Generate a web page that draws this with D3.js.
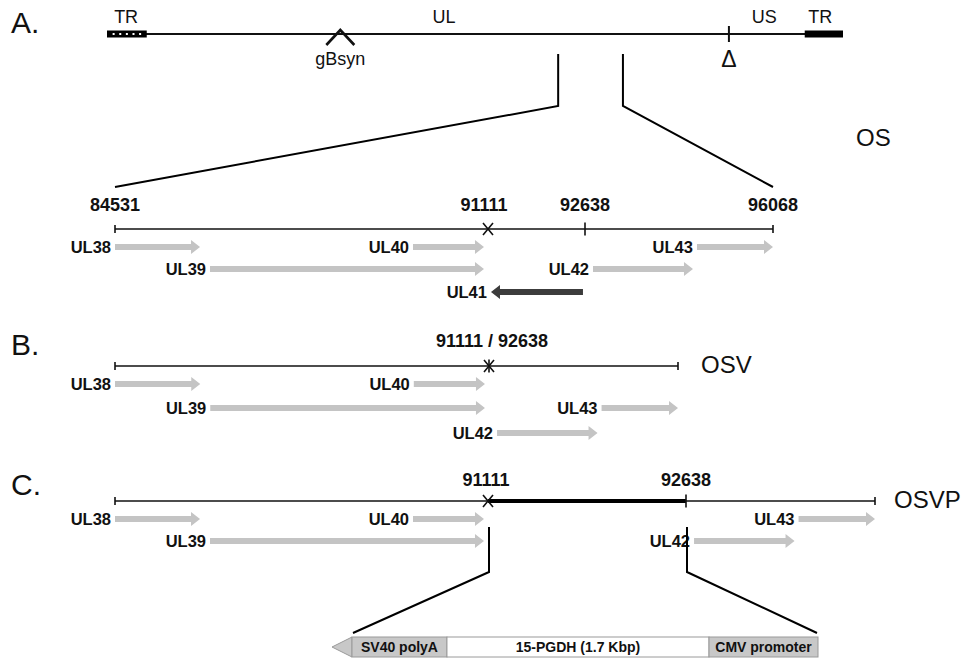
<!DOCTYPE html>
<html>
<head>
<meta charset="utf-8">
<script src="https://cdn.jsdelivr.net/npm/d3@7"></script>
<style>
  body { margin: 0; background: #fff; }
  svg { display: block; font-family: "Liberation Sans", Arial, Helvetica, sans-serif; }
</style>
</head>
<body>
<svg id="fig" width="975" height="660"></svg>
<script>
// ---------- Genome overview (schematic map units, 0–100 across the genome) ----------
const mapRepeats = [
  { name: "TR", start: 0,    end: 5.4, dotted: true },
  { name: "TR", start: 94.8, end: 100, dotted: false }
];
const mapLabels = [
  { text: "TR", pos: 2.6 },
  { text: "UL", pos: 45.8 },
  { text: "US", pos: 89.3 },
  { text: "TR", pos: 96.9 }
];
const gBsynPos = 31.7;          // gB syncytial mutation
const usDeletionPos = 84.5;     // Δ marker
const zoomWindow = [61.3, 70.1]; // expanded UL38–UL43 region

// ---------- Expanded region landmarks (bp) ----------
const regionStart = 84531;
const cutLeft = 91111;
const cutRight = 92638;
const regionEnd = 96068;

// ---------- Open reading frames (bp; start -> end gives direction) ----------
const genesOS = [
  { name: "UL38", start: 84531, end: 86031, row: 0 },
  { name: "UL39", start: 86207, end: 91040, row: 1 },
  { name: "UL40", start: 89788, end: 91040, row: 0 },
  { name: "UL41", start: 92606, end: 91158, row: 2 },
  { name: "UL42", start: 92784, end: 94608, row: 1 },
  { name: "UL43", start: 94681, end: 96068, row: 0 }
];
const genesOSV = [
  { name: "UL38", start: 84531, end: 86031, row: 0 },
  { name: "UL39", start: 86207, end: 91040, row: 1 },
  { name: "UL40", start: 89788, end: 91040, row: 0 },
  { name: "UL42", start: 92784, end: 94608, row: 2 },
  { name: "UL43", start: 94681, end: 96068, row: 1 }
];
const genesOSVP = [
  { name: "UL38", start: 84531, end: 86031, row: 0 },
  { name: "UL39", start: 86207, end: 91040, row: 1 },
  { name: "UL40", start: 89788, end: 91040, row: 0 },
  { name: "UL42", start: 92784, end: 94608, row: 1 },
  { name: "UL43", start: 94681, end: 96068, row: 0 }
];

// ---------- Inserted expression cassette (bp) ----------
const cassetteParts = [
  { name: "SV40 polyA",        length: 616,  fill: "#c8c8c8" },
  { name: "15-PGDH (1.7 Kbp)", length: 1700, fill: "#ffffff" },
  { name: "CMV promoter",      length: 707,  fill: "#c8c8c8" }
];

// =====================================================================
const svg = d3.select("#fig");
const INK = "#111";
const GENE_FILL = "#c4c4c4";
const GENE_FILL_REV = "#3c3c3c";

// Panel letters
const letters = [{ t: "A.", y: 33 }, { t: "B.", y: 355 }, { t: "C.", y: 495 }];
svg.selectAll("text.letter").data(letters).join("text")
  .attr("class", "letter")
  .attr("x", 11).attr("y", d => d.y)
  .attr("font-size", 30).attr("fill", INK)
  .text(d => d.t);

// ---------- Overview map ----------
const mapY = 34;
const xMap = d3.scaleLinear().domain([0, 100]).range([107, 843]);

svg.append("line")
  .attr("x1", xMap(0)).attr("x2", xMap(100))
  .attr("y1", mapY).attr("y2", mapY)
  .attr("stroke", INK).attr("stroke-width", 2);

const rep = svg.selectAll("g.rep").data(mapRepeats).join("g").attr("class", "rep");
rep.append("rect")
  .attr("x", d => xMap(d.start)).attr("width", d => xMap(d.end) - xMap(d.start))
  .attr("y", mapY - 3.5).attr("height", 7)
  .attr("fill", "#000");
rep.filter(d => d.dotted).each(function (d) {
  const g = d3.select(this);
  const n = 5;
  const xs = d3.scaleLinear().domain([0, n + 1]).range([xMap(d.start), xMap(d.end)]);
  g.selectAll("rect.dot").data(d3.range(1, n + 1)).join("rect")
    .attr("class", "dot")
    .attr("x", i => xs(i) - 1).attr("y", mapY - 1)
    .attr("width", 2).attr("height", 2)
    .attr("fill", "#fff");
});

svg.selectAll("text.maplab").data(mapLabels).join("text")
  .attr("class", "maplab")
  .attr("x", d => xMap(d.pos)).attr("y", 23)
  .attr("text-anchor", "middle").attr("font-size", 18).attr("fill", INK)
  .text(d => d.text);

// gBsyn caret
const gx = xMap(gBsynPos);
svg.append("path")
  .attr("d", d3.line()([[gx - 14, 45], [gx, 30], [gx + 14, 45]]))
  .attr("fill", "none").attr("stroke", INK).attr("stroke-width", 2.6);
svg.append("text")
  .attr("x", gx).attr("y", 65)
  .attr("text-anchor", "middle").attr("font-size", 18).attr("fill", INK)
  .text("gBsyn");

// US deletion marker
const dx = xMap(usDeletionPos);
svg.append("line")
  .attr("x1", dx).attr("x2", dx).attr("y1", 26).attr("y2", 42)
  .attr("stroke", INK).attr("stroke-width", 2);
svg.append("text")
  .attr("x", dx).attr("y", 67)
  .attr("text-anchor", "middle").attr("font-size", 23).attr("fill", INK)
  .text("Δ");

// ---------- Expanded tracks ----------
const panels = [
  {
    name: "OS", nameX: 856, nameY: 146,
    axisY: 229, rows: [247, 269, 292], genes: genesOS,
    x: d3.scaleLinear().domain([regionStart, cutLeft, cutRight, regionEnd]).range([115, 488, 585, 773]),
    marks: [
      { pos: regionStart, kind: "tick" },
      { pos: cutLeft, kind: "cross" },
      { pos: cutRight, kind: "tickTall" },
      { pos: regionEnd, kind: "tick" }
    ],
    labels: [
      { text: String(regionStart), pos: regionStart },
      { text: String(cutLeft), pos: cutLeft, dx: -4 },
      { text: String(cutRight), pos: cutRight },
      { text: String(regionEnd), pos: regionEnd }
    ],
    labelDy: -18
  },
  {
    name: "OSV", nameX: 701, nameY: 373,
    axisY: 366, rows: [384, 408, 433], genes: genesOSV,
    x: d3.scaleLinear().domain([regionStart, cutLeft, cutRight, regionEnd]).range([115, 489, 489, 678]),
    marks: [
      { pos: regionStart, kind: "tick" },
      { pos: cutLeft, kind: "cross" },
      { pos: cutRight, kind: "tickTall" },
      { pos: regionEnd, kind: "tick" }
    ],
    labels: [{ text: cutLeft + " / " + cutRight, pos: cutLeft, dx: 3 }],
    labelDy: -19
  },
  {
    name: "OSVP", nameX: 894, nameY: 508,
    axisY: 501, rows: [519, 541, 563], genes: genesOSVP,
    x: d3.scaleLinear().domain([regionStart, cutLeft, cutRight, regionEnd]).range([115, 488, 686, 875]),
    insert: [cutLeft, cutRight],
    marks: [
      { pos: regionStart, kind: "tick" },
      { pos: cutLeft, kind: "cross" },
      { pos: cutRight, kind: "tickTall" },
      { pos: regionEnd, kind: "tick" }
    ],
    labels: [
      { text: String(cutLeft), pos: cutLeft, dx: -2 },
      { text: String(cutRight), pos: cutRight }
    ],
    labelDy: -15
  }
];

function arrowPath(x0, x1, y) {
  const d = x1 >= x0 ? 1 : -1;
  const head = 9, shaft = 3, half = 7;
  const hb = x1 - d * head;
  return d3.line()([
    [x0, y - shaft], [hb, y - shaft], [hb, y - half], [x1, y],
    [hb, y + half], [hb, y + shaft], [x0, y + shaft]
  ]) + "Z";
}

panels.forEach(p => {
  const g = svg.append("g");
  const x = p.x;
  const y = p.axisY;

  // backbone
  g.append("line")
    .attr("x1", x(regionStart)).attr("x2", x(regionEnd))
    .attr("y1", y).attr("y2", y)
    .attr("stroke", INK).attr("stroke-width", 1.6);

  if (p.insert) {
    g.append("line")
      .attr("x1", x(p.insert[0])).attr("x2", x(p.insert[1]))
      .attr("y1", y).attr("y2", y)
      .attr("stroke", "#000").attr("stroke-width", 4);
  }

  // marks
  p.marks.forEach(m => {
    const mx = x(m.pos);
    if (m.kind === "tick" || m.kind === "tickTall") {
      const h = m.kind === "tick" ? 4 : 6.5;
      g.append("line")
        .attr("x1", mx).attr("x2", mx).attr("y1", y - h).attr("y2", y + h)
        .attr("stroke", INK).attr("stroke-width", 1.6);
    } else {
      g.append("path")
        .attr("d", `M${mx - 5},${y - 6}L${mx + 5},${y + 6}M${mx + 5},${y - 6}L${mx - 5},${y + 6}`)
        .attr("stroke", INK).attr("stroke-width", 1.6).attr("fill", "none");
    }
  });

  // coordinate labels
  g.selectAll("text.coord").data(p.labels).join("text")
    .attr("class", "coord")
    .attr("x", d => x(d.pos) + (d.dx || 0)).attr("y", y + p.labelDy)
    .attr("text-anchor", "middle").attr("font-size", 18).attr("font-weight", "bold")
    .attr("fill", INK)
    .text(d => d.text);

  // construct name
  g.append("text")
    .attr("x", p.nameX).attr("y", p.nameY)
    .attr("font-size", 24).attr("fill", INK)
    .text(p.name);

  p.g = g;
});

// connector lines (drawn beneath the gene labels)
const connectors = svg.append("g").attr("fill", "none").attr("stroke", "#000").attr("stroke-width", 2);
const pA = panels[0], pC = panels[2];
connectors.append("path").attr("d", d3.line()([
  [xMap(zoomWindow[0]), 54], [xMap(zoomWindow[0]), 106], [pA.x(regionStart), 187]
]));
connectors.append("path").attr("d", d3.line()([
  [xMap(zoomWindow[1]), 54], [xMap(zoomWindow[1]), 106], [pA.x(regionEnd), 187]
]));

// cassette
const cassetteTotal = d3.sum(cassetteParts, d => d.length);
const xCas = d3.scaleLinear().domain([0, cassetteTotal]).range([352, 818]);
const casTop = 637, casH = 20;
let acc = 0;
cassetteParts.forEach(d => { d.s = acc; acc += d.length; d.e = acc; });

connectors.append("path").attr("d", d3.line()([
  [pC.x(cutLeft) + 1, 527], [pC.x(cutLeft) + 1, 572], [xCas(0) + 1, 633]
]));
connectors.append("path").attr("d", d3.line()([
  [pC.x(cutRight) + 1, 527], [pC.x(cutRight) + 1, 572], [xCas(cassetteTotal) - 1, 633]
]));

// genes
panels.forEach(p => {
  const g = p.g;
  const genes = g.selectAll("g.gene").data(p.genes).join("g").attr("class", "gene");
  genes.append("path")
    .attr("d", d => arrowPath(p.x(d.start), p.x(d.end), p.rows[d.row]))
    .attr("fill", d => d.end >= d.start ? GENE_FILL : GENE_FILL_REV);
  genes.each(function (d) {
    const gg = d3.select(this);
    const lx = Math.min(p.x(d.start), p.x(d.end)) - 4;
    const t = gg.append("text")
      .attr("x", lx).attr("y", p.rows[d.row] + 6)
      .attr("text-anchor", "end").attr("font-size", 16.5).attr("font-weight", "bold")
      .attr("fill", INK)
      .text(d.name);
    const bb = t.node().getBBox();
    gg.insert("rect", "text")
      .attr("x", bb.x - 1).attr("y", bb.y).attr("width", bb.width + 2).attr("height", bb.height)
      .attr("fill", "#fff");
  });
});

// cassette drawing
const cas = svg.append("g");
cas.append("path")
  .attr("d", d3.line()([[xCas(0), casTop], [xCas(0) - 20, casTop + casH / 2], [xCas(0), casTop + casH]]) + "Z")
  .attr("fill", "#c8c8c8").attr("stroke", "#9a9a9a").attr("stroke-width", 1);
cas.selectAll("rect.part").data(cassetteParts).join("rect")
  .attr("class", "part")
  .attr("x", d => xCas(d.s)).attr("width", d => xCas(d.e) - xCas(d.s))
  .attr("y", casTop).attr("height", casH)
  .attr("fill", d => d.fill).attr("stroke", "#9a9a9a").attr("stroke-width", 1);
cas.selectAll("text.part").data(cassetteParts).join("text")
  .attr("class", "part")
  .attr("x", d => (xCas(d.s) + xCas(d.e)) / 2).attr("y", casTop + 15)
  .attr("text-anchor", "middle").attr("font-size", 14).attr("font-weight", "bold")
  .attr("fill", INK)
  .text(d => d.name);
</script>
</body>
</html>
